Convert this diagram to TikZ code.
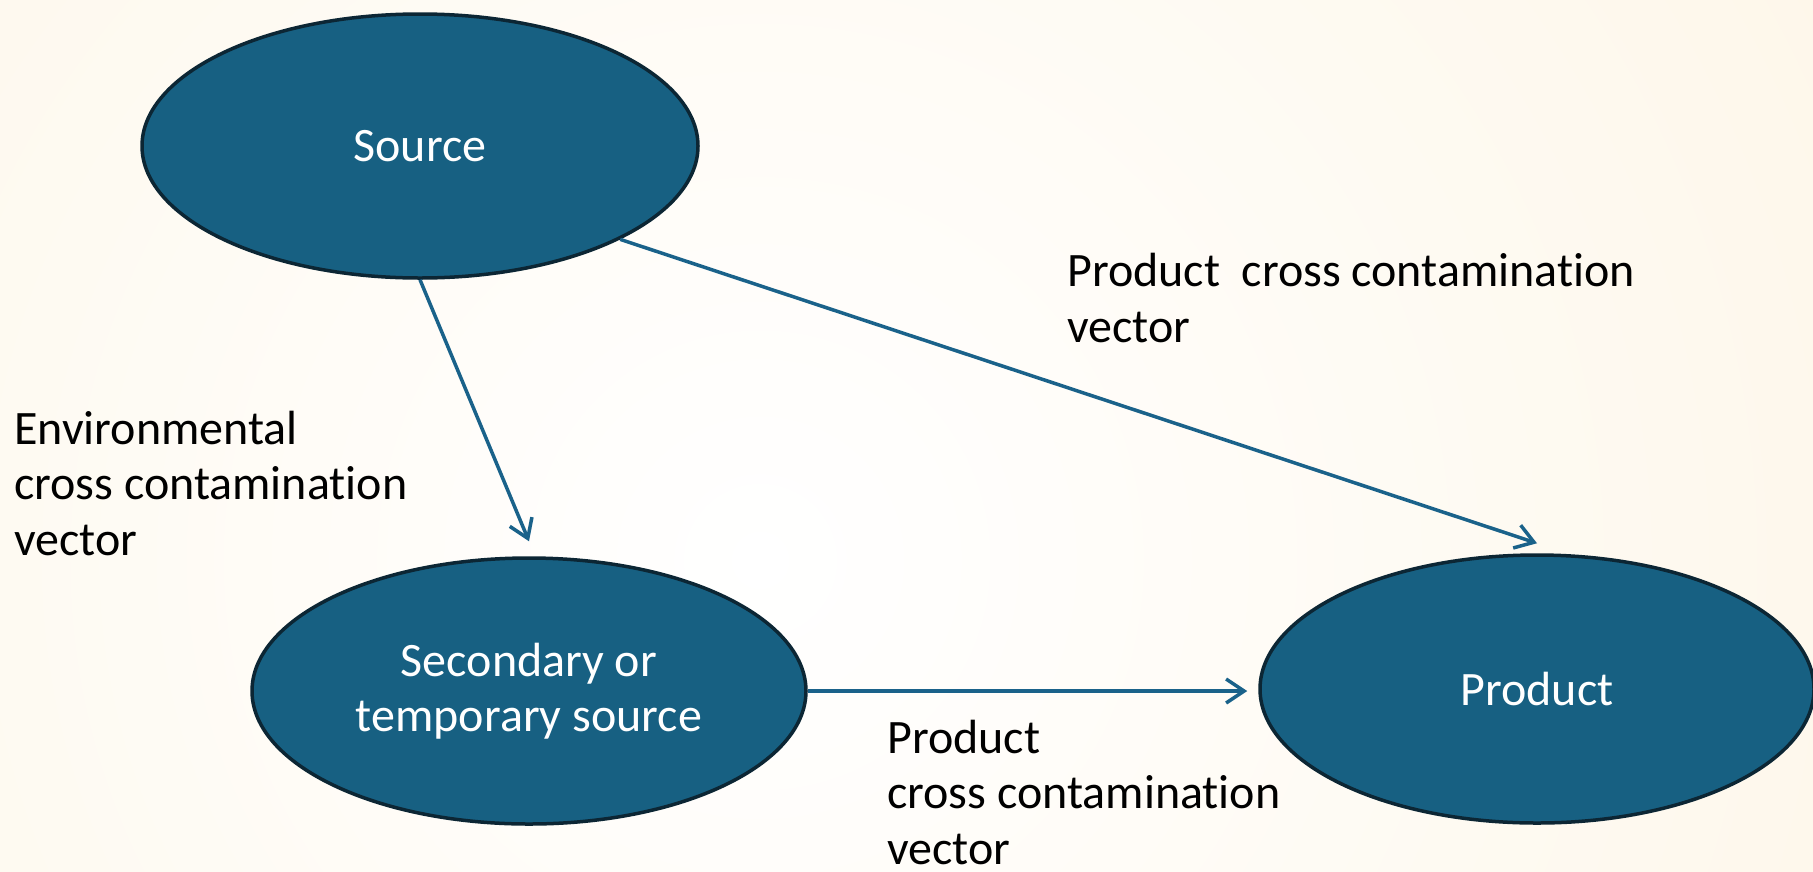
\documentclass[tikz,border=0pt]{standalone}
\usepackage{fontspec}
\setmainfont{Carlito}[Ligatures=NoCommon]
\usetikzlibrary{arrows.meta,shapes.geometric,calc}
\definecolor{bgcream}{RGB}{253,240,215}
\definecolor{nodefill}{RGB}{23,96,130}
\definecolor{nodeedge}{RGB}{12,38,52}
\definecolor{arrowcol}{RGB}{26,98,138}
\tikzset{
  bubble/.style={ellipse, fill=nodefill, draw=nodeedge, line width=3.5pt, inner sep=0pt,
    text=white, align=center, font=\fontsize{48}{55}\selectfont},
  lbl/.style={anchor=base west, align=left, inner sep=0pt, text=black,
    font=\fontsize{48}{55.5}\selectfont},
  conn/.style={draw=arrowcol, line width=3.5pt,
    -{Straight Barb[length=18pt,width=24pt,line width=3.5pt]}}
}
\begin{document}
\begin{tikzpicture}[x=1pt,y=-1pt]
\useasboundingbox (0,0) rectangle (1813,871);
\fill[bgcream] (0,0) rectangle (1813,871);
\begin{scope}
\clip (0,0) rectangle (1813,871);
\shade[inner color=white, outer color=bgcream] (760,560) circle (2300);
\end{scope}

\node[bubble, minimum width=556pt, minimum height=264pt] (src) at (420,146) {Source};
\node[bubble, minimum width=554pt, minimum height=266pt] (sec) at (529,691) {Secondary or\\temporary source};
\node[bubble, minimum width=554pt, minimum height=268pt] (prod) at (1537,689) {Product};

\draw[conn] (src.south) -- ([yshift=15pt]sec.north);
\draw[conn] (src.-25.6) -- ([yshift=10pt]prod.north);
\draw[conn] (sec.east) -- ([xshift=-11pt]sec.east -| prod.west);

% base anchor of a multi-line node = baseline of its last line
\node[lbl] (envlbl) at (14,555) {Environmental\\cross contamination\\vector};
\node[lbl] (toplbl) at (1067,342) {Product\ \ cross contamination\\vector};
\node[lbl] (botlbl) at (887,864) {Product\\cross contamination\\vector};
\end{tikzpicture}
\end{document}
